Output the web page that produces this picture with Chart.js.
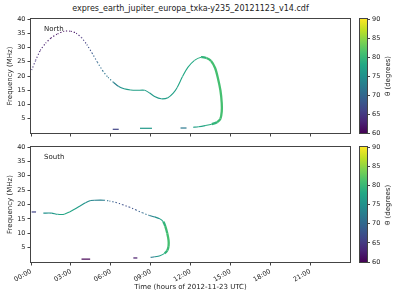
<!DOCTYPE html>
<html>
<head>
<meta charset="utf-8">
<script src="https://cdn.jsdelivr.net/npm/chart.js@4.4.0/dist/chart.umd.min.js"></script>
<style>
    body { margin: 0; width: 400px; height: 300px; background: #fff; position: relative; overflow: hidden; font-family: "DejaVu Sans", sans-serif; }
    canvas { position: absolute; }
    #title { position: absolute; left: 0; width: 381px; top: 4px; text-align: center; font-size: 8px; color: #222; }
    .cblabel { position: absolute; font-size: 7px; color: #222; white-space: nowrap; transform: translate(-50%, -50%) rotate(-90deg); }
</style>
</head>
<body>
<div id="title">expres_earth_jupiter_europa_txka-y235_20121123_v14.cdf</div>
<canvas id="north" width="355" height="140" style="left:0;top:0"></canvas>
<canvas id="northBar" width="50" height="140" style="left:350px;top:0"></canvas>
<canvas id="south" width="355" height="160" style="left:0;top:140px"></canvas>
<canvas id="southBar" width="50" height="160" style="left:350px;top:140px"></canvas>
<div class="cblabel" style="left:388px;top:76px">θ (degrees)</div>
<div class="cblabel" style="left:388px;top:205px">θ (degrees)</div>

<script>
/* Data: time in hours, frequency in MHz, theta in degrees */
const hourTicks = [0, 3, 6, 9, 12, 15, 18, 21];
const freqTicks = [5, 10, 15, 20, 25, 30, 35, 40];
const thetaTicks = [60, 65, 70, 75, 80, 85, 90];

const northTime  = [0.05, 0.35, 0.7, 1.1, 1.5, 2.0, 2.5, 3.0, 3.4, 3.8, 4.2, 4.6, 5.0, 5.4, 5.8, 6.2, 6.6, 7.0, 7.5, 8.0, 8.55, 8.9, 9.3, 9.8, 10.3, 10.7, 11.0, 11.4, 11.8, 12.3, 12.8, 13.2, 13.55, 13.85, 14.05, 14.25, 14.35, 14.35, 14.25, 14.0, 13.6, 13.1, 12.6, 12.2];
const northFreq  = [22.1, 25.5, 29.0, 31.5, 33.3, 34.8, 35.7, 35.7, 35.0, 33.5, 31.0, 28.0, 24.8, 21.8, 19.5, 17.8, 16.3, 15.5, 15.1, 15.0, 15.0, 14.1, 12.8, 12.0, 12.4, 14.0, 16.0, 19.8, 23.0, 25.5, 26.6, 26.3, 25.3, 22.8, 19.5, 15.0, 10.5, 7.5, 5.0, 3.8, 3.1, 2.6, 2.2, 2.0];
const northTheta = [65, 64, 63, 62, 62, 61, 61, 61, 62, 64, 66, 68, 70, 71, 72, 72, 74, 76, 77, 77, 77, 76, 76, 76, 77, 77, 77, 78, 78, 78, 79, 80, 81, 81, 81, 81, 81, 81, 81, 80, 79, 78, 77, 77];

// isolated short bursts: start hour, end hour, frequency, theta
const northBurstStart = [0.38, 6.15, 8.2, 11.25];
const northBurstEnd   = [0.45, 6.6, 9.1, 11.7];
const northBurstFreq  = [1.0, 1.3, 1.65, 1.75];
const northBurstTheta = [61, 66, 76, 72];

const southTime  = [0.93, 1.55, 2.0, 2.5, 2.9, 3.3, 3.7, 4.1, 4.5, 4.8, 5.5, 5.9, 6.4, 6.9, 7.4, 7.9, 8.4, 8.9, 9.3, 9.7, 9.95, 10.1, 10.25, 10.35, 10.35, 10.25, 10.05, 9.7, 9.3, 9.0];
const southFreq  = [17.0, 17.0, 16.6, 16.6, 17.4, 18.4, 19.5, 20.6, 21.4, 21.5, 21.5, 21.2, 20.7, 19.9, 19.1, 18.1, 17.1, 16.2, 15.7, 15.0, 14.0, 12.5, 10.0, 7.5, 5.5, 4.0, 3.0, 2.2, 1.8, 1.6];
const southTheta = [75, 75, 77, 78, 78, 77, 76, 75, 74, 73, 73, 70, 68, 67, 67, 68, 70, 72, 74, 76, 79, 80, 81, 81, 81, 80, 79, 77, 74, 71];

const southBurstStart = [0.05, 3.8, 7.7];
const southBurstEnd   = [0.38, 4.45, 8.0];
const southBurstFreq  = [17.4, 1.0, 1.4];
const southBurstTheta = [66, 60, 62];

/* viridis colour map */
const viridisStops = ['#440154', '#482475', '#414487', '#355f8d', '#2a788e', '#21918c', '#22a884', '#44bf70', '#7ad151', '#bddf26', '#fde725'];

function hexRgb(h) {
    return [parseInt(h.slice(1, 3), 16), parseInt(h.slice(3, 5), 16), parseInt(h.slice(5, 7), 16)];
}

function viridis(theta) {
    let t = Math.min(1, Math.max(0, (theta - 60) / 30)) * 10;
    const i = Math.min(9, Math.floor(t));
    const f = t - i;
    const a = hexRgb(viridisStops[i]), b = hexRgb(viridisStops[i + 1]);
    const c = a.map((v, k) => Math.round(v + (b[k] - v) * f));
    return `rgb(${c[0]},${c[1]},${c[2]})`;
}

const axisColor = '#444';
const textColor = '#222';

// box around the plot area
const framePlugin = {
    id: 'frame',
    afterDraw(chart) {
        const a = chart.chartArea;
        const c = chart.ctx;
        c.save();
        c.strokeStyle = axisColor;
        c.lineWidth = 1;
        c.strokeRect(Math.round(a.left) - 0.5, Math.round(a.top) - 0.5, Math.round(a.right - a.left) + 1, Math.round(a.bottom - a.top) + 1);
        const name = chart.options.plugins.frame.name;
        if (name) {
            c.fillStyle = textColor;
            c.font = '7px "DejaVu Sans"';
            c.textBaseline = 'middle';
            c.fillText(name, a.left + 13, a.top + 10.5);
        }
        c.restore();
    }
};

function makePanel(id, name, time, freq, theta, bStart, bEnd, bFreq, bTheta, showLabels, padTop, xHeight) {
    const segTheta = ctx => (ctx.p0.raw.th + ctx.p1.raw.th) / 2;
    const datasets = [{
        data: time.map((t, i) => ({ x: t, y: freq[i], th: theta[i] })),
        showLine: true,
        pointRadius: 0,
        tension: 0.25,
        borderWidth: 1.1,
        segment: {
            borderColor: ctx => viridis(segTheta(ctx)),
            borderDash: ctx => segTheta(ctx) < 72.5 ? [1.1, 1.9] : undefined,
            borderWidth: ctx => segTheta(ctx) >= 79.5 ? 2.3 : 1.1
        }
    }];
    bStart.forEach((s, i) => {
        datasets.push({
            data: [{ x: s, y: bFreq[i] }, { x: bEnd[i], y: bFreq[i] }],
            showLine: true,
            pointRadius: 0,
            borderWidth: 1.2,
            borderColor: viridis(bTheta[i])
        });
    });

    return new Chart(document.getElementById(id), {
        type: 'scatter',
        data: { datasets },
        options: {
            responsive: false,
            animation: false,
            layout: { padding: { top: padTop, right: 5, left: 0, bottom: 0 } },
            plugins: { legend: { display: false }, tooltip: { enabled: false }, frame: { name } },
            scales: {
                x: {
                    type: 'linear', min: 0, max: 24,
                    afterBuildTicks: s => { s.ticks = hourTicks.map(v => ({ value: v })); },
                    afterFit: s => { s.height = xHeight; },
                    grid: { drawOnChartArea: false, tickLength: 3.5, color: axisColor },
                    border: { display: false },
                    ticks: {
                        display: showLabels,
                        minRotation: 30, maxRotation: 30, padding: 2,
                        color: textColor, font: { size: 6.5, family: 'DejaVu Sans' },
                        callback: v => String(v).padStart(2, '0') + ':00'
                    },
                    title: {
                        display: showLabels,
                        text: 'Time (hours of 2012-11-23 UTC)',
                        color: textColor, font: { size: 7, family: 'DejaVu Sans' },
                        padding: { top: 0, bottom: 9 }
                    }
                },
                y: {
                    min: 0, max: 40,
                    afterBuildTicks: s => { s.ticks = freqTicks.map(v => ({ value: v })); },
                    afterFit: s => { s.width = 31; },
                    grid: { drawOnChartArea: false, tickLength: 3.5, color: axisColor },
                    border: { display: false },
                    ticks: { padding: 2, color: textColor, font: { size: 6.5, family: 'DejaVu Sans' } },
                    title: {
                        display: true, text: 'Frequency (MHz)',
                        color: textColor, font: { size: 7, family: 'DejaVu Sans' },
                        padding: { top: 6, bottom: 0 }
                    }
                }
            }
        },
        plugins: [framePlugin]
    });
}

function makeColorbar(id, padTop, padBottom) {
    return new Chart(document.getElementById(id), {
        type: 'bar',
        data: {
            labels: ['theta'],
            datasets: [{
                data: [[60, 90]],
                barPercentage: 1,
                categoryPercentage: 1,
                borderWidth: 0,
                backgroundColor: c => {
                    const a = c.chart.chartArea;
                    if (!a) return null;
                    const g = c.chart.ctx.createLinearGradient(0, a.bottom, 0, a.top);
                    viridisStops.forEach((col, i) => g.addColorStop(i / 10, col));
                    return g;
                }
            }]
        },
        options: {
            responsive: false,
            animation: false,
            layout: { padding: { top: padTop, bottom: padBottom, left: 10, right: 0 } },
            plugins: { legend: { display: false }, tooltip: { enabled: false }, frame: { name: '' } },
            scales: {
                x: { display: false },
                y: {
                    position: 'right', min: 60, max: 90,
                    afterBuildTicks: s => { s.ticks = thetaTicks.map(v => ({ value: v })); },
                    afterFit: s => { s.width = 33; },
                    grid: { drawOnChartArea: false, tickLength: 3, color: axisColor },
                    border: { display: false },
                    ticks: { padding: 2, color: textColor, font: { size: 6.5, family: 'DejaVu Sans' } }
                }
            }
        },
        plugins: [framePlugin]
    });
}

makePanel('north', 'North', northTime, northFreq, northTheta,
    northBurstStart, northBurstEnd, northBurstFreq, northBurstTheta, false, 19, 7);
makePanel('south', 'South', southTime, southFreq, southTheta,
    southBurstStart, southBurstEnd, southBurstFreq, southBurstTheta, true, 7, 38);
makeColorbar('northBar', 19, 7);
makeColorbar('southBar', 7, 38);
</script>
</body>
</html>
